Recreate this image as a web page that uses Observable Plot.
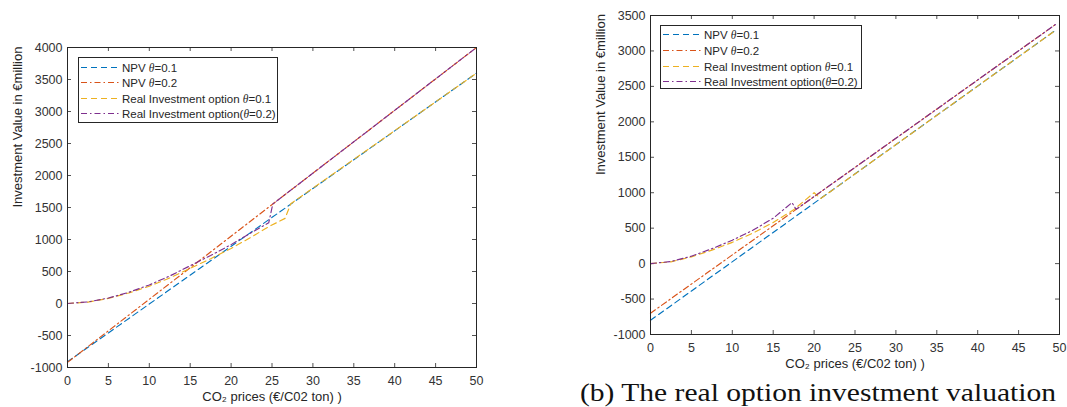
<!DOCTYPE html>
<html>
<head>
<meta charset="utf-8">
<script src="https://cdn.jsdelivr.net/npm/d3@7"></script>
<script src="https://cdn.jsdelivr.net/npm/@observablehq/plot@0.6"></script>
<style>
  body { margin: 0; background: #fff; }
  #wrap { position: relative; width: 1067px; height: 407px; overflow: hidden; background: #fff; }
  .abs { position: absolute; }
</style>
</head>
<body>
<div id="wrap"></div>
<script>
// ---------- data ----------
const xTicks = [0, 5, 10, 15, 20, 25, 30, 35, 40, 45, 50];
const leftYTicks = [-1000, -500, 0, 500, 1000, 1500, 2000, 2500, 3000, 3500, 4000];
const rightYTicks = [-1000, -500, 0, 500, 1000, 1500, 2000, 2500, 3000, 3500];

const seriesNames = ["NPV θ=0.1", "NPV θ=0.2", "Real Investment option θ=0.1", "Real Investment option(θ=0.2)"];
const seriesColors = ["#0072BD", "#D95319", "#EDB120", "#7E2F8E"];
const seriesDash = ["6,4", "6,3,1.5,3", "6,4", "6,3,1.5,3"];

const xLabel = "CO₂ prices (€/C02 ton) )";
const yLabel = "Investment Value in €million";
const caption = "(b) The real option investment valuation";

// left panel
const leftNpv1X = [0, 50];
const leftNpv1Y = [-910, 3600];
const leftNpv2X = [0, 25.1, 50];
const leftNpv2Y = [-920, 1555, 4000];
const leftOpt1X = [0, 2.5, 5, 7.5, 10, 12.5, 15, 17.5, 20, 22.5, 24.6, 26.6, 27.3, 50];
const leftOpt1Y = [0, 22, 80, 165, 270, 400, 550, 700, 860, 1040, 1200, 1330, 1560, 3600];
const leftOpt2X = [0, 2.5, 5, 7.5, 10, 12.5, 15, 17.5, 20, 22.5, 24.6, 25.1, 50];
const leftOpt2Y = [0, 25, 85, 175, 290, 430, 590, 750, 920, 1110, 1260, 1555, 4000];

// right panel
const rightNpv1X = [0, 49.5];
const rightNpv1Y = [-800, 3290];
const rightNpv2X = [0, 49.5];
const rightNpv2Y = [-700, 3372];
const rightOpt1X = [0, 2.5, 5, 7.5, 10, 12.5, 15, 17.5, 20, 20.8, 49.5];
const rightOpt1Y = [0, 25, 95, 190, 300, 430, 580, 760, 1000, 918, 3290];
const rightOpt2X = [0, 2.5, 5, 7.5, 10, 12.5, 15, 17.3, 17.8, 49.5];
const rightOpt2Y = [0, 30, 105, 210, 330, 470, 640, 860, 765, 3372];

// ---------- helpers ----------
const toRows = (xs, ys) => xs.map((x, i) => ({x, y: ys[i]}));
const plainFmt = d => String(d);

function makePanel({series, yDomain, yTicks, width, height, ml, mr, mt, mb}) {
  const plotW = width - ml - mr;
  const plotH = height - mt - mb;
  const ink = "#262626";
  const marks = [
    Plot.tickX(xTicks, {x: d => d, insetTop: plotH - 4, stroke: ink, strokeWidth: 0.8}),
    Plot.tickX(xTicks, {x: d => d, insetBottom: plotH - 4, stroke: ink, strokeWidth: 0.8}),
    Plot.tickY(yTicks, {y: d => d, insetRight: plotW - 4, stroke: ink, strokeWidth: 0.8}),
    Plot.tickY(yTicks, {y: d => d, insetLeft: plotW - 4, stroke: ink, strokeWidth: 0.8}),
    Plot.axisX(xTicks, {tickSize: 0, tickPadding: 9, label: null, color: "#333", fontSize: 12.5, tickFormat: plainFmt}),
    Plot.axisY(yTicks, {tickSize: 0, tickPadding: 5, label: null, color: "#333", fontSize: 12.5, tickFormat: plainFmt}),
    ...series.map((s, i) => Plot.line(s, {
      x: "x", y: "y", stroke: seriesColors[i], strokeWidth: 1.15,
      strokeDasharray: seriesDash[i], curve: "linear"
    })),
    Plot.frame({stroke: ink, strokeWidth: 1}),
    Plot.text([xLabel], {frameAnchor: "bottom", dy: 33, text: d => d, fontSize: 13, fill: ink}),
    Plot.text([yLabel], {frameAnchor: "left", dx: -50, rotate: -90, text: d => d, fontSize: 13, fill: ink})
  ];
  return Plot.plot({
    width, height,
    marginLeft: ml, marginRight: mr, marginTop: mt, marginBottom: mb,
    x: {domain: [0, 50]},
    y: {domain: yDomain},
    style: {fontFamily: "'Liberation Sans', Arial, sans-serif", fontSize: "12px", background: "transparent", overflow: "visible"},
    marks
  });
}

function makeLegend(boxW, boxH, rowYs) {
  const svg = d3.create("svg").attr("width", boxW + 2).attr("height", boxH + 2)
    .style("overflow", "visible");
  svg.append("rect").attr("x", 0.5).attr("y", 0.5).attr("width", boxW).attr("height", boxH)
    .attr("fill", "#fff").attr("stroke", "#262626").attr("stroke-width", 1);
  seriesNames.forEach((name, i) => {
    const yy = rowYs[i];
    svg.append("path").attr("d", `M3,${yy}H42`)
      .attr("fill", "none")
      .attr("stroke", seriesColors[i]).attr("stroke-width", 1.2)
      .attr("stroke-dasharray", seriesDash[i]);
    const t = svg.append("text").attr("x", 44).attr("y", yy + 4)
      .attr("font-family", "'Liberation Sans', Arial, sans-serif")
      .attr("font-size", 11.5).attr("fill", "#262626");
    const parts = name.split("θ");
    t.append("tspan").text(parts[0]);
    t.append("tspan").attr("font-style", "italic").attr("font-family", "'Liberation Serif', serif").text("θ");
    t.append("tspan").text(parts[1]);
  });
  return svg.node();
}

// ---------- build ----------
const wrap = document.getElementById("wrap");

const left = makePanel({
  series: [toRows(leftNpv1X, leftNpv1Y), toRows(leftNpv2X, leftNpv2Y), toRows(leftOpt1X, leftOpt1Y), toRows(leftOpt2X, leftOpt2Y)],
  yDomain: [-1000, 4000], yTicks: leftYTicks,
  width: 490, height: 407, ml: 67, mr: 14, mt: 47, mb: 40
});
left.classList.add("abs");
left.style.left = "0px"; left.style.top = "0px";
wrap.appendChild(left);

const right = makePanel({
  series: [toRows(rightNpv1X, rightNpv1Y), toRows(rightNpv2X, rightNpv2Y), toRows(rightOpt1X, rightOpt1Y), toRows(rightOpt2X, rightOpt2Y)],
  yDomain: [-1000, 3500], yTicks: rightYTicks,
  width: 484, height: 380, ml: 67, mr: 8, mt: 15, mb: 46
});
right.classList.add("abs");
right.style.left = "583px"; right.style.top = "0px";
wrap.appendChild(right);

const legL = makeLegend(199, 65, [10.5, 25.5, 41.5, 56.5]);
legL.classList.add("abs");
legL.style.left = "77.5px"; legL.style.top = "56.5px";
wrap.appendChild(legL);

const legR = makeLegend(201, 63, [9.5, 25.5, 41.5, 56.5]);
legR.classList.add("abs");
legR.style.left = "659.5px"; legR.style.top = "24.5px";
wrap.appendChild(legR);

// caption
const cap = d3.create("svg").attr("width", 490).attr("height", 40).attr("class", "abs")
  .style("left", "577px").style("top", "370px").style("overflow", "visible");
cap.append("text").attr("x", 3).attr("y", 31)
  .attr("font-family", "'Liberation Serif', 'DejaVu Serif', serif")
  .attr("font-size", 26).attr("fill", "#111")
  .attr("textLength", 476).attr("lengthAdjust", "spacingAndGlyphs")
  .text(caption);
wrap.appendChild(cap.node());
</script>
</body>
</html>
